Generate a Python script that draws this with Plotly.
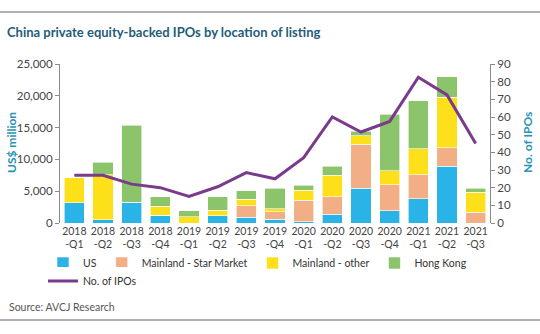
import plotly.graph_objects as go

quarters = ["2018<br>-Q1", "2018<br>-Q2", "2018<br>-Q3", "2018<br>-Q4",
            "2019<br>-Q1", "2019<br>-Q2", "2019<br>-Q3", "2019<br>-Q4",
            "2020<br>-Q1", "2020<br>-Q2", "2020<br>-Q3", "2020<br>-Q4",
            "2021<br>-Q1", "2021<br>-Q2", "2021<br>-Q3"]
us = [3150, 500, 3150, 1250, 0, 1150, 900, 600, 200, 1400, 5450, 1900, 3800, 8900, 0]
star = [0, 0, 0, 0, 0, 0, 1800, 1200, 3400, 2700, 6950, 4100, 3800, 2900, 1700]
other = [3950, 7100, 100, 1350, 1000, 850, 1000, 460, 1550, 3400, 1300, 2200, 4100, 8000, 3150]
hk = [0, 1950, 12150, 1500, 900, 2150, 1350, 3200, 800, 1400, 700, 8900, 7500, 3200, 650]
ipos = [27, 27, 22, 20, 15, 20.5, 28.5, 25, 37, 60, 51.5, 57.5, 82.5, 72.5, 45]

FONT = "Lato, sans-serif"
TEAL = "#2a93b8"

fig = go.Figure()
bar_specs = [("US", us, "#2ab3e6"), ("Mainland - Star Market", star, "#f2ae84"),
             ("Mainland - other", other, "#fde01a"), ("Hong Kong", hk, "#8cc46c")]
for name, vals, col in bar_specs:
    fig.add_trace(go.Bar(x=quarters, y=vals, name=name, marker_color=col,
                         marker_line_width=0.6, marker_line_color="white",
                         legend="legend"))
fig.add_trace(go.Scatter(x=quarters, y=ipos, name="No. of IPOs", yaxis="y2",
                         mode="lines", line=dict(color="#7a3b8c", width=3),
                         legend="legend2"))

axis_col = "#8a8a8a"
fig.update_layout(
    width=540, height=334,
    margin=dict(l=60, r=50, t=64, b=111),
    paper_bgcolor="white", plot_bgcolor="white",
    barmode="stack", bargap=0.3,
    font=dict(family=FONT, size=11, color="#444"),
    title=dict(text="China private equity-backed IPOs by location of listing",
               x=0.013, xanchor="left", xref="container",
               y=1 - 32 / 334, yanchor="middle", yref="container",
               font=dict(family=FONT, size=13, color="#1f5d7a", weight=700)),
    xaxis=dict(showline=False, ticks="", tickangle=0,
               tickfont=dict(size=10.5, color="#444"), showgrid=False),
    yaxis=dict(range=[0, 25000], dtick=5000, tickformat=",d", showline=True,
               linecolor=axis_col, linewidth=1, ticks="outside", ticklen=4,
               tickcolor=axis_col, showgrid=False, zeroline=False,
               tickfont=dict(size=11.5, color="#444")),
    yaxis2=dict(range=[0, 90], dtick=10, overlaying="y", side="right",
                showline=True, linecolor=axis_col, linewidth=1, ticks="outside",
                ticklen=4, tickcolor=axis_col, showgrid=False, zeroline=False,
                tickfont=dict(size=11.5, color="#444")),
    legend=dict(orientation="h", x=(43 - 60) / 430, xanchor="left",
                y=(223 - 263) / 159, yanchor="middle",
                font=dict(size=10.5, color="#333"), traceorder="normal",
                itemwidth=30),
    legend2=dict(orientation="h", x=(43 - 60) / 430, xanchor="left",
                 y=(223 - 281) / 159, yanchor="middle",
                 font=dict(size=10.5, color="#333"), itemwidth=30),
    showlegend=True,
)

px_w, px_h = 430, 159
def px_x(p):
    return (p - 60) / px_w
def px_y(p):
    return (223 - p) / px_h

fig.add_annotation(text="US$ million", x=px_x(11), y=px_y(143), xref="paper", yref="paper",
                   textangle=-90, showarrow=False, xanchor="center", yanchor="middle",
                   font=dict(family=FONT, size=12, color=TEAL, weight=700))
fig.add_annotation(text="No. of IPOs", x=px_x(527), y=px_y(143), xref="paper", yref="paper",
                   textangle=-90, showarrow=False, xanchor="center", yanchor="middle",
                   font=dict(family=FONT, size=12, color=TEAL, weight=700))
fig.add_annotation(text="Source: AVCJ Research", x=px_x(7), y=px_y(307), xref="paper", yref="paper",
                   showarrow=False, xanchor="left", yanchor="middle",
                   font=dict(family=FONT, size=10.5, color="#555"))

for yy in (12, 320):
    fig.add_shape(type="line", xref="paper", yref="paper", x0=px_x(0), x1=px_x(540),
                  y0=px_y(yy), y1=px_y(yy), line=dict(color="#b0b0b0", width=2))

fig.write_html("out.html")
